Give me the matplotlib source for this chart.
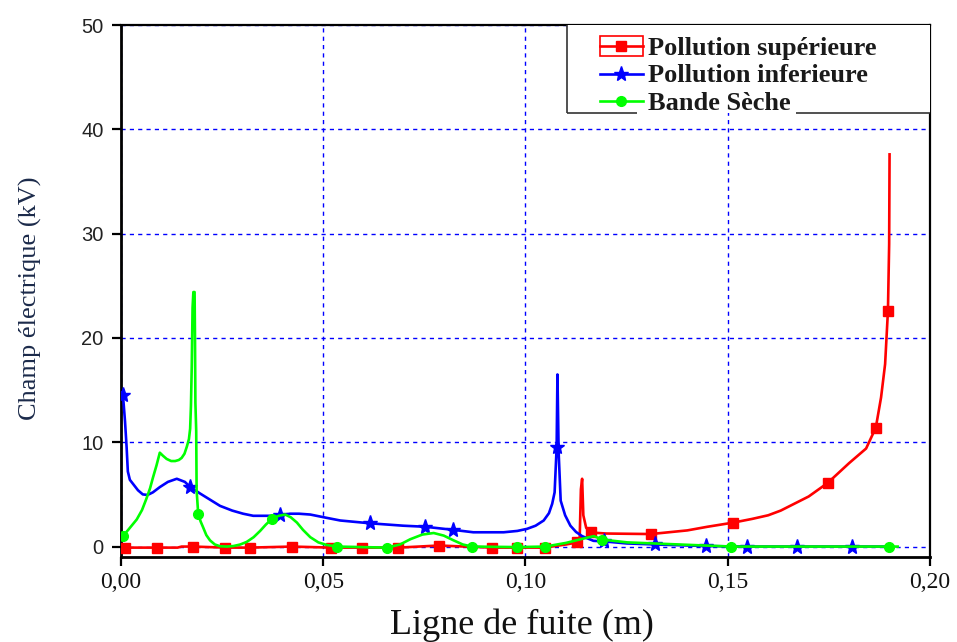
import matplotlib
matplotlib.use("Agg")
import matplotlib.pyplot as plt
from matplotlib.lines import Line2D
from matplotlib.patches import Rectangle
from matplotlib.legend_handler import HandlerTuple, HandlerPatch
from matplotlib.ticker import FuncFormatter

# ---- data -------------------------------------------------------------
# Pollution supérieure (red)
sup_x = [0.0000, 0.0010, 0.0088, 0.0140, 0.0150, 0.0179, 0.0257, 0.0319, 0.0423,
         0.0520, 0.0596, 0.0686, 0.0786, 0.0850, 0.0917, 0.0979, 0.1047, 0.1100,
         0.1128, 0.1134, 0.1137, 0.1140, 0.1143, 0.1150, 0.1161, 0.1200, 0.1310,
         0.1400, 0.1450, 0.1514, 0.1560, 0.1600, 0.1631, 0.1700, 0.1747, 0.1800,
         0.1842, 0.1866, 0.1879, 0.1889, 0.1896, 0.1899, 0.1900]
sup_y = [-0.1, -0.1, -0.1, -0.1, 0.0, 0.0, -0.1, -0.1, 0.0,
         -0.1, -0.1, -0.1, 0.1, 0.0, -0.1, -0.1, -0.1, 0.2,
         0.4, 0.8, 5.5, 6.5, 3.0, 1.8, 1.35, 1.25, 1.2,
         1.55, 1.9, 2.3, 2.65, 3.0, 3.45, 4.8, 6.1, 8.0,
         9.4, 11.4, 14.3, 17.5, 22.6, 29.0, 37.6]
sup_marks = [0.0010, 0.0088, 0.0179, 0.0257, 0.0319, 0.0423, 0.0520, 0.0596, 0.0686,
             0.0786, 0.0917, 0.0979, 0.1047, 0.1128, 0.1161, 0.1310, 0.1514, 0.1747,
             0.1866, 0.1896]

# Pollution inferieure (blue)
inf_x = [0.0003, 0.0005, 0.0010, 0.0014, 0.0017, 0.0022, 0.0030, 0.0042, 0.0054,
         0.0066, 0.0079, 0.0096, 0.0116, 0.0138, 0.0158, 0.0170, 0.0195, 0.0220,
         0.0245, 0.0275, 0.0302, 0.0327, 0.0369, 0.0393, 0.0418, 0.0440, 0.0468,
         0.0509, 0.0542, 0.0616, 0.0698, 0.0752, 0.0822, 0.0871, 0.0946, 0.0980,
         0.1004, 0.1025, 0.1045, 0.1058, 0.1066, 0.1072, 0.1077, 0.1079, 0.1082,
         0.1087, 0.1098, 0.1111, 0.1125, 0.1140, 0.1168, 0.1193, 0.1250, 0.1321,
         0.1446, 0.1548, 0.1672, 0.1808, 0.1900]
inf_y = [14.8, 14.5, 12.0, 9.5, 7.2, 6.4, 6.0, 5.4, 5.0,
         4.95, 5.2, 5.7, 6.2, 6.5, 6.2, 5.75, 5.1, 4.5,
         3.9, 3.45, 3.15, 2.95, 2.95, 3.0, 3.15, 3.15, 3.07,
         2.75, 2.5, 2.23, 2.0, 1.9, 1.6, 1.37, 1.37, 1.5,
         1.7, 2.0, 2.5, 3.2, 4.1, 5.2, 9.5, 16.5, 9.0,
         4.4, 3.0, 2.0, 1.4, 1.0, 0.55, 0.5, 0.3, 0.2,
         0.05, 0.0, 0.0, 0.0, 0.0]
inf_marks = [0.0005, 0.0170, 0.0393, 0.0616, 0.0752, 0.0822, 0.1077, 0.1193,
             0.1321, 0.1446, 0.1548, 0.1672, 0.1808]

# Bande Sèche (green)
seche_x = [0.0005, 0.0020, 0.0039, 0.0052, 0.0063, 0.0072, 0.0079, 0.0088, 0.0096,
           0.0104, 0.0113, 0.0124, 0.0134, 0.0143, 0.0150, 0.0157, 0.0163, 0.0168,
           0.0171, 0.0173, 0.0175, 0.0177, 0.0179, 0.0182, 0.0183, 0.0184, 0.0186,
           0.0187, 0.0191, 0.0197, 0.0203, 0.0211, 0.0220, 0.0232, 0.0245, 0.0262,
           0.0278, 0.0295, 0.0311, 0.0328, 0.0344, 0.0358, 0.0373, 0.0390, 0.0406,
           0.0420, 0.0435, 0.0450, 0.0468, 0.0488, 0.0509, 0.0534, 0.0658, 0.0690,
           0.0715, 0.0745, 0.0773, 0.0798, 0.0822, 0.0845, 0.0868, 0.0979, 0.1049,
           0.1100, 0.1136, 0.1169, 0.1190, 0.1252, 0.1508, 0.1899, 0.1920]
seche_y = [1.0, 1.7, 2.6, 3.5, 4.6, 5.6, 6.6, 7.8, 9.0,
           8.7, 8.4, 8.2, 8.2, 8.3, 8.5, 8.9, 9.6, 10.3,
           11.3, 13.5, 17.3, 22.9, 24.4, 24.4, 20.0, 13.8, 11.1,
           5.4, 3.1, 2.4, 1.85, 1.1, 0.6, 0.2, 0.03, 0.0,
           0.05, 0.2, 0.45, 0.9, 1.5, 2.1, 2.65, 2.95, 3.07,
           2.8, 2.3, 1.6, 0.9, 0.4, 0.15, 0.0, -0.1, 0.2,
           0.7, 1.15, 1.3, 1.05, 0.6, 0.2, 0.0, -0.05, 0.0,
           0.35, 0.7, 1.0, 0.67, 0.4, 0.0, 0.0, 0.0]
seche_marks = [0.0005, 0.0191, 0.0373, 0.0534, 0.0658, 0.0868, 0.0979, 0.1049,
               0.1190, 0.1508, 0.1899]

x_ticks = [0.00, 0.05, 0.10, 0.15, 0.20]
y_ticks = [0, 10, 20, 30, 40, 50]
labels = ["Pollution supérieure", "Pollution inferieure", "Bande Sèche"]

# ---- figure -----------------------------------------------------------
fig = plt.figure(figsize=(9.57, 6.42), dpi=100)
ax = fig.add_axes([0.1264, 0.1324, 0.8454, 0.8286])

RED, BLUE, GREEN = "#ff0000", "#0000ff", "#00ff00"
LW = 1.9


def mark_idx(xs, marks):
    return [xs.index(v) for v in marks]


ax.plot(sup_x, sup_y, color=RED, lw=LW, marker="s", ms=7,
        markevery=mark_idx(sup_x, sup_marks), zorder=3)
ax.plot(inf_x, inf_y, color=BLUE, lw=LW, marker="*", ms=11,
        markevery=mark_idx(inf_x, inf_marks), zorder=3.1)
ax.plot(seche_x, seche_y, color=GREEN, lw=LW, marker="o", ms=7,
        markevery=mark_idx(seche_x, seche_marks), zorder=3.2)

ax.set_xlim(0, 0.20)
ax.set_ylim(-1, 50)
ax.set_xticks(x_ticks)
ax.set_yticks(y_ticks)
ax.xaxis.set_major_formatter(FuncFormatter(lambda v, p: f"{v:.2f}".replace(".", ",")))
ax.yaxis.set_major_formatter(FuncFormatter(lambda v, p: f"{v:.0f}"))

ax.grid(True, color=BLUE, linestyle=(0, (3, 3)), lw=1.0)
ax.set_axisbelow(True)

for side in ("left", "bottom"):
    ax.spines[side].set_linewidth(2.0)
for side in ("top", "right"):
    ax.spines[side].set_linewidth(1.6)

ax.tick_params(axis="both", direction="out", length=6.5, width=1.6, color="black")
ax.tick_params(axis="y", pad=6)
ax.tick_params(axis="x", pad=4)
for t in ax.get_yticklabels():
    t.set_fontfamily("Liberation Sans")
    t.set_fontsize(14.5)
    t.set_color("#222222")
for t in ax.get_xticklabels():
    t.set_fontfamily("Liberation Serif")
    t.set_fontsize(17)
    t.set_color("#111111")

ax.set_xlabel("Ligne de fuite (m)", family="Liberation Serif", fontsize=26, color="#111111")
ax.set_ylabel("Champ électrique (kV)", family="Liberation Serif", fontsize=19, color="#1b2a4a")
ax.xaxis.set_label_coords(0.496, -0.096)
ax.yaxis.set_label_coords(-0.098, 0.486)

# ---- legend box ---------------------------------------------------------
bx0, by0 = 0.551, 0.835
ax.add_patch(Rectangle((bx0, by0), 1 - bx0, 1 - by0, transform=ax.transAxes,
                       facecolor="white", edgecolor="none", zorder=4, clip_on=False))
frame_kw = dict(transform=ax.transAxes, color="#333333", lw=1.2, zorder=4.5,
                clip_on=False, solid_capstyle="butt")
ax.plot([bx0, bx0], [by0, 1.0], **frame_kw)
ax.plot([bx0, 0.638], [by0, by0], **frame_kw)
ax.plot([0.834, 1.0], [by0, by0], **frame_kw)


def red_box(legend, orig_handle, xdescent, ydescent, width, height, fontsize):
    extra = 0.1 * height
    return Rectangle((-xdescent, -ydescent - extra), width, height + 2 * extra)


h_sup = (Rectangle((0, 0), 1, 1, facecolor="none", edgecolor=RED, lw=1.2),
         Line2D([], [], color=RED, lw=LW, marker="s", ms=7))
h_inf = Line2D([], [], color=BLUE, lw=LW, marker="*", ms=11)
h_sec = Line2D([], [], color=GREEN, lw=LW, marker="o", ms=7)

leg = ax.legend([h_sup, h_inf, h_sec], labels, loc="upper left",
                bbox_to_anchor=(0.585, 0.987), frameon=False, numpoints=1,
                borderpad=0.2, borderaxespad=0, handlelength=1.65, handleheight=0.62,
                handletextpad=0.2, labelspacing=0.16,
                prop={"family": "Liberation Serif", "weight": "bold", "size": 19},
                handler_map={tuple: HandlerTuple(ndivide=1, pad=0),
                             Rectangle: HandlerPatch(patch_func=red_box)})
leg.set_zorder(5)
for t in leg.get_texts():
    t.set_color("#1a1a1a")

fig.savefig("out.png", dpi=100)
